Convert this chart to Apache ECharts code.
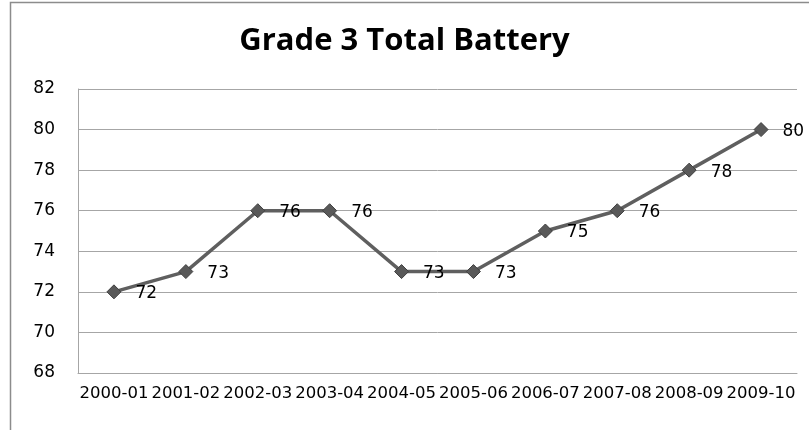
<!DOCTYPE html>
<html>
<head>
<meta charset="utf-8">
<script src="https://cdn.jsdelivr.net/npm/echarts@6/dist/echarts.min.js"></script>
<style>
  html, body { margin: 0; padding: 0; background: #fff; }
  #chart { width: 809px; height: 430px; }
</style>
</head>
<body>
<div id="chart"></div>
<script>
// School years and Grade 3 Total Battery scores
const years = ['2000-01', '2001-02', '2002-03', '2003-04', '2004-05', '2005-06', '2006-07', '2007-08', '2008-09', '2009-10'];
const scores = [72, 73, 76, 76, 73, 73, 75, 76, 78, 80];
const yTicks = [68, 70, 72, 74, 76, 78, 80, 82];

const chart = echarts.init(document.getElementById('chart'), null, { renderer: 'canvas' });

chart.setOption({
  backgroundColor: '#ffffff',
  animation: false,
  title: {
    text: 'Grade 3 Total Battery',
    left: 'center',
    top: 21,
    textStyle: { fontFamily: 'Open Sans', fontWeight: 'bold', fontSize: 31, color: '#000' }
  },
  graphic: [{
    type: 'rect',
    shape: { x: 10.5, y: 2.5, width: 820, height: 440 },
    style: { fill: 'none', stroke: '#8c8c8c', lineWidth: 1.5 },
    silent: true
  }],
  grid: { left: 78, right: 12, top: 89, bottom: 57, containLabel: false },
  xAxis: {
    type: 'category',
    data: years,
    boundaryGap: true,
    axisLine: { show: true, lineStyle: { color: '#a6a6a6', width: 1 } },
    axisTick: { show: false },
    axisLabel: { interval: 0, margin: 12, fontFamily: 'DejaVu Sans', fontSize: 16.5, color: '#000' }
  },
  yAxis: {
    type: 'value',
    min: yTicks[0],
    max: yTicks[yTicks.length - 1],
    interval: 2,
    axisLine: { show: true, lineStyle: { color: '#a6a6a6', width: 1 } },
    axisTick: { show: false },
    axisLabel: { margin: 23, fontFamily: 'DejaVu Sans', fontSize: 17, color: '#000' },
    splitLine: { show: true, lineStyle: { color: '#a6a6a6', width: 1 } }
  },
  series: [{
    type: 'line',
    data: scores,
    symbol: 'diamond',
    symbolSize: 14,
    lineStyle: { color: '#5f5f5f', width: 3.5 },
    itemStyle: { color: '#595959', borderColor: '#404040', borderWidth: 1 },
    label: {
      show: true,
      position: 'right',
      distance: 14,
      offset: [0, 2],
      fontFamily: 'DejaVu Sans',
      fontSize: 17,
      color: '#000'
    }
  }]
});
</script>
</body>
</html>
